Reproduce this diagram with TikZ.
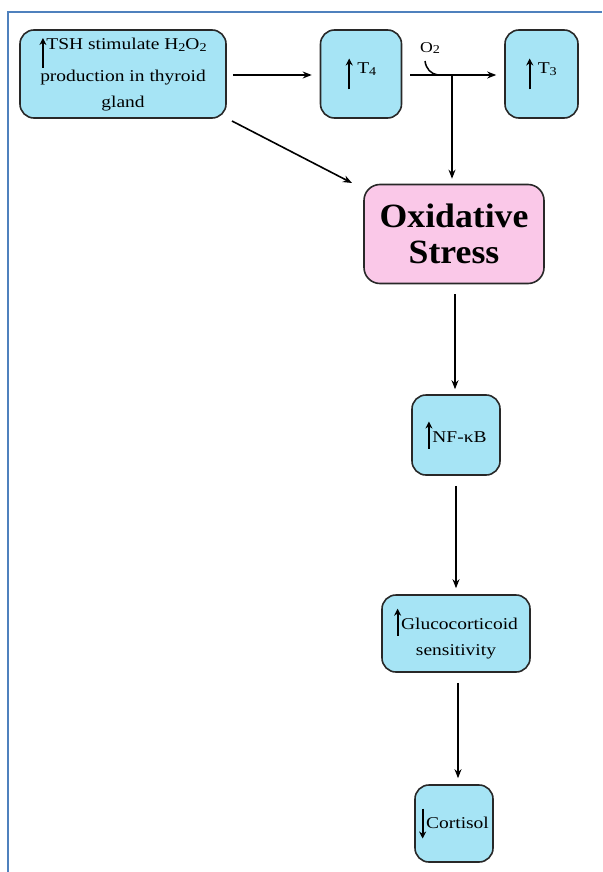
\documentclass[tikz,border=0pt]{standalone}
\usepackage{fontspec}
\setmainfont[FakeStretch=1.18]{Liberation Serif}
\newfontfamily\oxfont[FakeStretch=1.05]{Liberation Serif}
\usetikzlibrary{arrows.meta}
\definecolor{frameblue}{RGB}{79,129,189}
\definecolor{boxblue}{RGB}{166,228,245}
\definecolor{boxpink}{RGB}{250,200,232}
\definecolor{boxline}{RGB}{40,40,40}
\newcommand{\myarr}[2]{\tikz[baseline=0pt,x=1pt,y=1pt]\draw[line width=2pt,-{Stealth[length=7pt,width=7pt]}] (0,#1) -- (0,#2);}
\newcommand{\sub}[1]{\raisebox{-0.25ex}{\fontsize{12}{12}\selectfont #1}}
\begin{document}
\begin{tikzpicture}[x=1pt,y=-1pt,
  bbox/.style={draw=boxline,line width=1.6pt,fill=boxblue,rounded corners=14pt,inner sep=0pt,align=center,font=\fontsize{16.5}{26}\selectfont},
  pbox/.style={draw=boxline,line width=1.6pt,fill=boxpink,rounded corners=16pt,inner sep=0pt,align=center,font=\oxfont\fontsize{34}{36}\selectfont\bfseries},
  arr/.style={line width=1.6pt,-{Stealth[length=9pt,width=7pt]}}]
\useasboundingbox (0,0) rectangle (602,872);
\draw[frameblue,line width=2pt] (8,872) -- (8,12) -- (602,12);

\node[bbox,minimum width=206pt,minimum height=88pt] (tsh) at (123,74)
  {\myarr{-18}{12}TSH stimulate H\sub{2}O\sub{2}\\production in thyroid\\gland};
\node[bbox,minimum width=81pt,minimum height=88pt] (t4) at (361,74)
  {\myarr{-16}{15}\;T\sub{4}};
\node[bbox,minimum width=73pt,minimum height=88pt] (t3) at (541.5,74)
  {\myarr{-16}{15}\;T\sub{3}};
\node[pbox,minimum width=180pt,minimum height=99pt] (ox) at (454,234)
  {Oxidative\\Stress};
\node[bbox,minimum width=88pt,minimum height=80pt] (nf) at (456,435)
  {\myarr{-6}{21}NF-κB};
\node[bbox,minimum width=148pt,minimum height=77pt] (gc) at (456,633.5)
  {\myarr{-6}{21}Glucocorticoid\\sensitivity};
\node[bbox,minimum width=78pt,minimum height=77pt] (co) at (454,823.5)
  {\myarr{20}{-10}Cortisol};

\node[font=\fontsize{15}{15}\selectfont,inner sep=0pt] (o2) at (430,48) {O\sub{2}};
\coordinate (j) at (452,75);
\coordinate (hk) at (425,61);
\coordinate (hj) at (438,75);
\coordinate (ds) at (232,121);
\coordinate (de) at (352,183);

\draw[arr] ([xshift=6pt,yshift=-1pt]tsh.east) -- ([xshift=-8pt,yshift=-1pt]t4.west);
\draw[arr] ([xshift=8pt,yshift=-1pt]t4.east) -- ([xshift=-8pt,yshift=-1pt]t3.west);
\draw[line width=1.5pt] (hk) .. controls (426,69) and (431,74) .. (hj);
\draw[arr] (j) -- ([xshift=-2pt,yshift=5pt]ox.north);
\draw[arr] (ds) -- (de);
\draw[arr] ([xshift=1pt,yshift=-10pt]ox.south) -- ([xshift=-1pt,yshift=5pt]nf.north);
\draw[arr] ([yshift=-10pt]nf.south) -- ([yshift=6pt]gc.north);
\draw[arr] ([xshift=2pt,yshift=-10pt]gc.south) -- ([xshift=4pt,yshift=6pt]co.north);
\end{tikzpicture}
\end{document}
